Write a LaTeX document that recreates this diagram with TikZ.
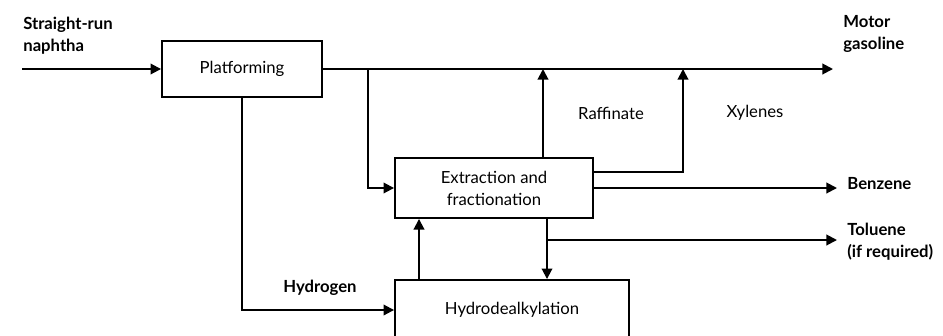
\documentclass[tikz,border=0pt]{standalone}
\usepackage{fontspec}
\setmainfont{Lato}
\usetikzlibrary{arrows.meta}

\begin{document}
\begin{tikzpicture}[x=0.02cm, y=-0.02cm,
    box/.style={draw, line width=1.1pt, inner sep=2pt, align=center, font=\fontsize{9.5}{12.5}\selectfont},
    flow/.style={line width=1.1pt, -{Triangle[length=6pt,width=6pt]}},
    lbl/.style={inner sep=0pt, align=left, font=\fontsize{9.5}{12.5}\selectfont}]
\useasboundingbox (0,0) rectangle (943,335);
\clip (0,0) rectangle (943,335);

\node[box, minimum width=3.2cm, minimum height=1.12cm] (plat) at (242,69) {Platforming};
\node[box, minimum width=3.96cm, minimum height=1.2cm] (ext) at (494,188) {Extraction and\\fractionation};
\node[box, minimum width=4.68cm, minimum height=1.2cm] (hyd) at (512,310) {Hydrodealkylation};

\coordinate (feed) at (22,69);
\coordinate (split) at (368,69);
\coordinate (raff) at (543,69);
\coordinate (xyl) at (683,69);
\coordinate (gas) at (833,69);
\coordinate (benz) at (837,188);
\coordinate (tsplit) at (547,240);
\coordinate (tol) at (837,240);
\coordinate (hup) at (419,280);

\draw[flow] (feed) -- (plat);
\draw[flow] (plat.east) -- (gas);
\draw[flow] (split) |- (ext.west);
\draw[flow] (plat.south) |- (hyd.west);
\draw[flow] (ext.north -| raff) -- (raff);
\draw[flow] (ext.east |- 0,172) -| (xyl);
\draw[flow] (ext.east) -- (benz);
\draw[line width=1.1pt] (ext.south -| tsplit) -- (tsplit);
\draw[flow] (tsplit) -- (hyd.north -| tsplit);
\draw[flow] (tsplit) -- (tol);
\draw[flow] (hyd.north -| hup) -- (ext.south -| hup);

\node[lbl, font=\fontsize{9.5}{12.5}\selectfont\bfseries, anchor=west] (naph) at (23,36) {Straight-run\\naphtha};
\node[lbl, font=\fontsize{9.5}{12.5}\selectfont\bfseries, anchor=west] (mgas) at (843,34) {Motor\\gasoline};
\node[lbl] (lraff) at (611,113) {Raffinate};
\node[lbl] (lxyl) at (755,113) {Xylenes};
\node[lbl, font=\fontsize{9.5}{12.5}\selectfont\bfseries, anchor=west] (lbenz) at (847,184) {Benzene};
\node[lbl, font=\fontsize{9.5}{12.5}\selectfont\bfseries, anchor=west] (ltol) at (847,242) {Toluene\\(if required)};
\node[lbl, font=\fontsize{9.5}{12.5}\selectfont\bfseries] (lhyd) at (320,288) {Hydrogen};
\end{tikzpicture}
\end{document}
